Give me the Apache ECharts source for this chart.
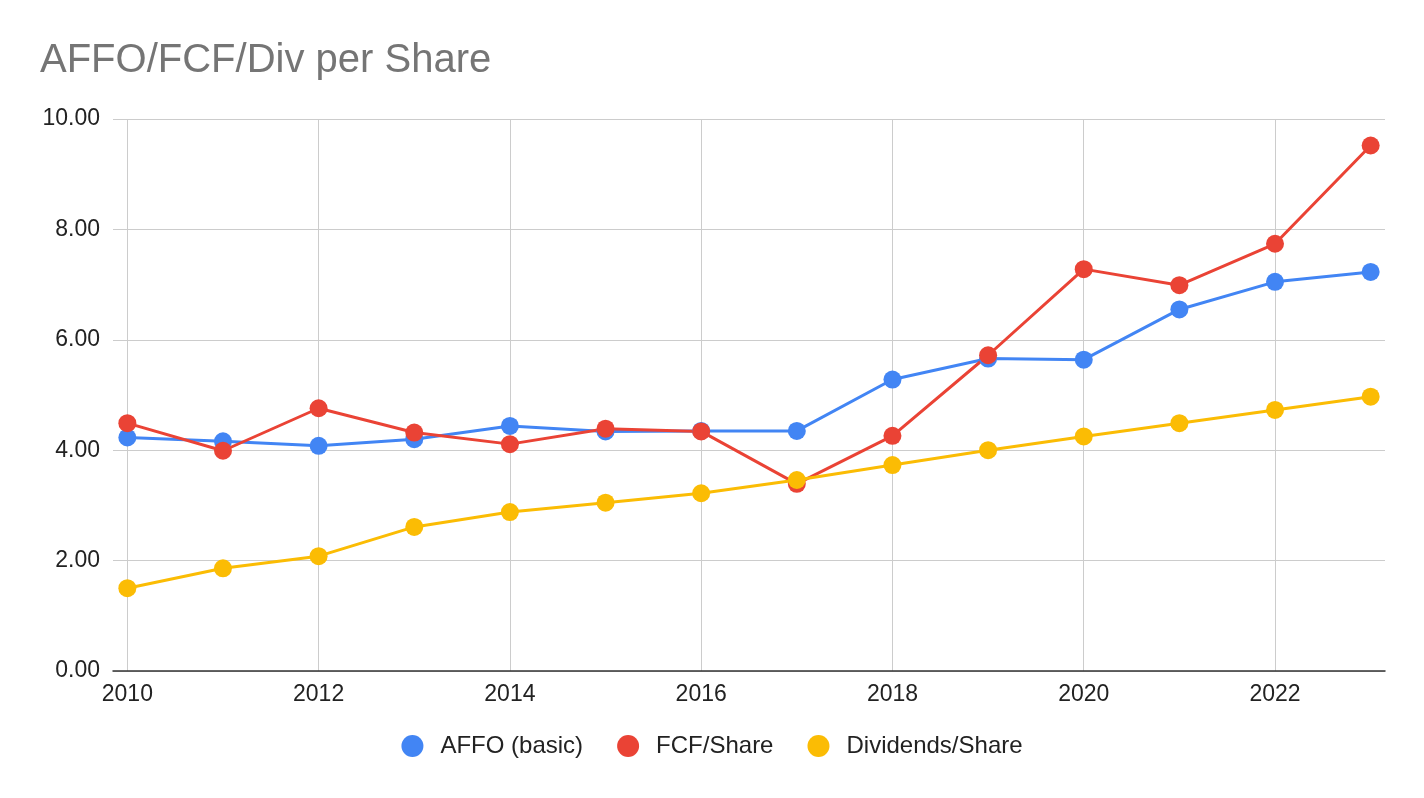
<!DOCTYPE html>
<html>
<head>
<meta charset="utf-8">
<script src="https://cdn.jsdelivr.net/npm/echarts@6/dist/echarts.min.js"></script>
<style>
  html, body { margin: 0; padding: 0; background: #fff; }
  #chart { width: 1424px; height: 798px; }
</style>
</head>
<body>
<div id="chart"></div>
<script>
const years = [2010, 2011, 2012, 2013, 2014, 2015, 2016, 2017, 2018, 2019, 2020, 2021, 2022, 2023];
const affoBasic = [4.23, 4.16, 4.08, 4.20, 4.44, 4.34, 4.35, 4.35, 5.28, 5.66, 5.64, 6.55, 7.05, 7.23];
const fcfShare = [4.49, 3.99, 4.76, 4.32, 4.11, 4.39, 4.34, 3.39, 4.26, 5.72, 7.28, 6.99, 7.74, 9.52];
const divShare = [1.50, 1.86, 2.08, 2.61, 2.88, 3.05, 3.22, 3.46, 3.73, 4.00, 4.25, 4.49, 4.73, 4.97];
const xTicks = [2010, 2012, 2014, 2016, 2018, 2020, 2022];

const fontFamily = 'Liberation Sans, Arial, sans-serif';

function pairs(values) {
    return years.map((y, i) => [y, values[i]]);
}

function lineSeries(name, values, color) {
    return {
        name: name,
        type: 'line',
        data: pairs(values),
        symbol: 'circle',
        symbolSize: 18,
        lineStyle: { width: 3, color: color },
        itemStyle: { color: color },
        emphasis: { disabled: true }
    };
}

const chart = echarts.init(document.getElementById('chart'), null, { renderer: 'canvas' });

chart.setOption({
    animation: false,
    backgroundColor: '#ffffff',
    title: {
        text: 'AFFO/FCF/Div per Share',
        left: 35,
        top: 36,
        textStyle: { fontFamily: fontFamily, fontSize: 40, fontWeight: 'normal', color: '#757575' }
    },
    legend: {
        top: 729,
        left: 'center',
        icon: 'circle',
        itemWidth: 22,
        itemHeight: 22,
        itemGap: 34,
        textStyle: { fontFamily: fontFamily, fontSize: 24, color: '#222222', padding: [0, 0, 0, 12] },
        data: ['AFFO (basic)', 'FCF/Share', 'Dividends/Share']
    },
    grid: { left: 113, right: 39, top: 119, bottom: 127, containLabel: false },
    xAxis: {
        type: 'value',
        min: 2009.85,
        max: 2023.15,
        axisLine: { show: true, lineStyle: { color: '#333333', width: 1.5 } },
        axisTick: { show: false, customValues: xTicks },
        axisLabel: {
            customValues: xTicks,
            margin: 12,
            fontFamily: fontFamily,
            fontSize: 23,
            color: '#222222',
            formatter: v => String(Math.round(v))
        },
        splitLine: { show: true, lineStyle: { color: '#cccccc', width: 1 } }
    },
    yAxis: {
        type: 'value',
        min: 0,
        max: 10,
        interval: 2,
        axisLine: { show: false },
        axisTick: { show: false },
        axisLabel: {
            margin: 13,
            fontFamily: fontFamily,
            fontSize: 23,
            color: '#222222',
            formatter: v => v.toFixed(2)
        },
        splitLine: { show: true, lineStyle: { color: '#cccccc', width: 1 } }
    },
    series: [
        lineSeries('AFFO (basic)', affoBasic, '#4285F4'),
        lineSeries('FCF/Share', fcfShare, '#EA4335'),
        lineSeries('Dividends/Share', divShare, '#FBBC04')
    ]
});
</script>
</body>
</html>
